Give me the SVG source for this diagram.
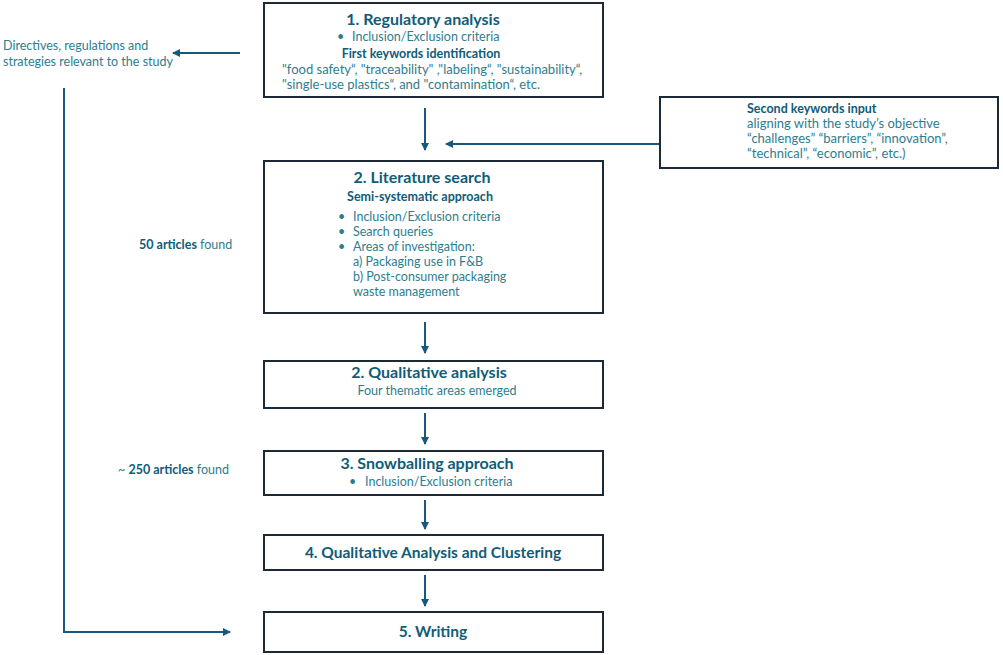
<svg xmlns="http://www.w3.org/2000/svg" width="1003" height="655" viewBox="0 0 1003 655">
<style>
.box{fill:#fff;stroke:#1c2a38;stroke-width:2}
.t{font-family:Lato,"Liberation Sans",sans-serif;font-weight:bold;fill:#0f5c78}
.b{font-family:Lato,"Liberation Sans",sans-serif;fill:#2e7d8e;font-size:12.5px}
.bb{font-family:Lato,"Liberation Sans",sans-serif;fill:#0f5c78;font-weight:bold;font-size:12.5px}
.b13{font-size:13px}
.c{fill:none;stroke:#17597b;stroke-width:2}
</style>
<defs>
<marker id="ah" markerWidth="8" markerHeight="8" refX="7" refY="4" orient="auto" markerUnits="userSpaceOnUse">
<path d="M0,0 L8,4 L0,8 Z" fill="#17597b"/>
</marker>
</defs>
<rect width="1003" height="655" fill="#fff"/>
<g id="connectors">
<line class="c" x1="240" y1="53" x2="173" y2="53" marker-end="url(#ah)"/>
<line class="c" x1="425" y1="108" x2="425" y2="150" marker-end="url(#ah)"/>
<line class="c" x1="663" y1="144" x2="446" y2="144" marker-end="url(#ah)"/>
<line class="c" x1="425" y1="322" x2="425" y2="353" marker-end="url(#ah)"/>
<line class="c" x1="425" y1="413" x2="425" y2="444" marker-end="url(#ah)"/>
<line class="c" x1="425" y1="500" x2="425" y2="529" marker-end="url(#ah)"/>
<line class="c" x1="425" y1="575" x2="425" y2="606" marker-end="url(#ah)"/>
<polyline class="c" points="64,88 64,632 230,632" marker-end="url(#ah)"/>
</g>
<g id="left-labels">
<text class="b" x="3" y="50">Directives, regulations and</text>
<text class="b" x="3" y="66">strategies relevant to the study</text>
<text class="b" x="139" y="249"><tspan class="bb">50 articles</tspan> found</text>
<text class="b" x="118" y="474">~ <tspan class="bb">250 articles</tspan> found</text>
</g>
<g id="node-regulatory">
<rect class="box" x="264" y="3" width="339" height="94"/>
<text class="t" x="423" y="25" font-size="16" text-anchor="middle">1. Regulatory analysis</text>
<text class="b" x="337" y="41">•</text>
<text class="b" x="352" y="41">Inclusion/Exclusion criteria</text>
<text class="bb" x="421" y="58" text-anchor="middle">First keywords identification</text>
<text class="b b13" x="282" y="74">"food safety“, "traceability" ,"labeling“, "sustainability“,</text>
<text class="b b13" x="282" y="89">"single-use plastics“, and "contamination“, etc.</text>
</g>
<g id="node-second-keywords">
<rect class="box" x="660" y="97" width="338" height="71"/>
<text class="bb" x="747" y="113">Second keywords input</text>
<text class="b b13" x="747" y="128">aligning with the study’s objective</text>
<text class="b b13" x="747" y="143">“challenges” “barriers”, “innovation”,</text>
<text class="b b13" x="747" y="158">“technical”, “economic”, etc.)</text>
</g>
<g id="node-literature">
<rect class="box" x="264" y="161" width="339" height="152"/>
<text class="t" x="422" y="183" font-size="16" text-anchor="middle">2. Literature search</text>
<text class="bb" x="420" y="201" text-anchor="middle">Semi-systematic approach</text>
<text class="b" x="338" y="221">•</text>
<text class="b" x="353" y="221">Inclusion/Exclusion criteria</text>
<text class="b" x="338" y="236">•</text>
<text class="b" x="353" y="236">Search queries</text>
<text class="b" x="338" y="251">•</text>
<text class="b" x="353" y="251">Areas of investigation:</text>
<text class="b" x="353" y="266">a) Packaging use in F&amp;B</text>
<text class="b" x="353" y="281">b) Post-consumer packaging</text>
<text class="b" x="353" y="296">waste management</text>
</g>
<g id="node-qualitative">
<rect class="box" x="264" y="361" width="339" height="47"/>
<text class="t" x="429" y="378" font-size="16" text-anchor="middle">2. Qualitative analysis</text>
<text class="b" x="437" y="395" text-anchor="middle">Four thematic areas emerged</text>
</g>
<g id="node-snowballing">
<rect class="box" x="264" y="451" width="339" height="44"/>
<text class="t" x="427" y="469" font-size="16" text-anchor="middle">3. Snowballing approach</text>
<text class="b" x="349" y="486">•</text>
<text class="b" x="365" y="486">Inclusion/Exclusion criteria</text>
</g>
<g id="node-clustering">
<rect class="box" x="264" y="535" width="339" height="35"/>
<text class="t" x="433" y="558" font-size="15.5" text-anchor="middle">4. Qualitative Analysis and Clustering</text>
</g>
<g id="node-writing">
<rect class="box" x="264" y="612" width="339" height="40"/>
<text class="t" x="433" y="637" font-size="15.5" text-anchor="middle">5. Writing</text>
</g>
</svg>
